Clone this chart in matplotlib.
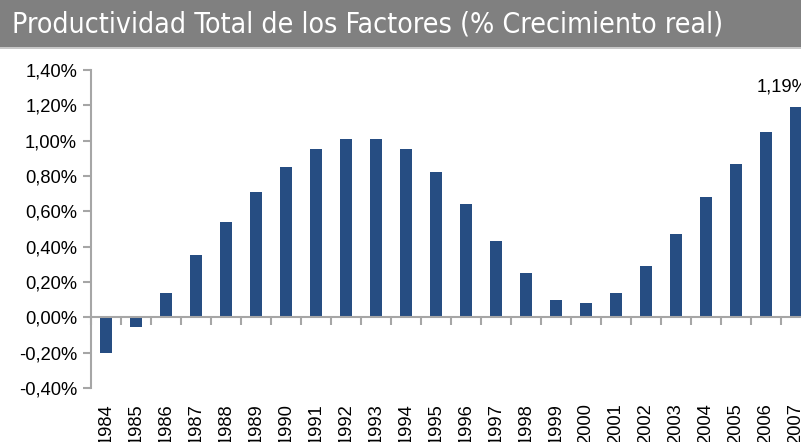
import matplotlib
matplotlib.use("Agg")
import matplotlib.pyplot as plt
from matplotlib.patches import Rectangle
from matplotlib.transforms import offset_copy

years = [str(y) for y in range(1984, 2008)]
tfp_growth = [-0.20, -0.055, 0.14, 0.35, 0.54, 0.71, 0.85, 0.95, 1.01, 1.01,
              0.95, 0.82, 0.64, 0.43, 0.25, 0.10, 0.08, 0.14, 0.29, 0.47,
              0.68, 0.87, 1.05, 1.19]
yticks = [-0.4, -0.2, 0.0, 0.2, 0.4, 0.6, 0.8, 1.0, 1.2, 1.4]
title = "Productividad Total de los Factores (% Crecimiento real)"

BAR = "#264d82"
GREY = "#a6a6a6"
W, H = 801, 442
FS = 13.2


def pct(v):
    return f"{v:.2f}%".replace(".", ",").replace("-0,00", "0,00")


fig = plt.figure(figsize=(W / 100, H / 100), dpi=100)

# header band
fig.patches.append(Rectangle((0, 1 - 47 / H), 1, 47 / H, transform=fig.transFigure,
                             facecolor="#808080", edgecolor="none"))
fig.patches.append(Rectangle((0, 1 - 49 / H), 1, 2 / H, transform=fig.transFigure,
                             facecolor="#c8c8c8", edgecolor="none"))
fig.text(12 / W, 1 - 24 / H, title, color="white", fontsize=20.4, family="DejaVu Sans",
         fontstretch="condensed", va="center", ha="left")

ax = fig.add_axes([91 / W, (H - 388) / H, 720 / W, (388 - 70) / H])
x = range(len(years))
ax.bar(x, tfp_growth, width=0.4, color=BAR, zorder=2)
ax.set_xlim(-0.5, len(years) - 0.5)
ax.set_ylim(-0.4, 1.4)
ax.set_yticks(yticks)
ax.set_yticklabels([pct(v) for v in yticks], fontsize=FS, family="Liberation Sans")

for s in ["top", "right"]:
    ax.spines[s].set_visible(False)
ax.spines["left"].set_color(GREY)
ax.spines["left"].set_linewidth(1.5)
ax.spines["bottom"].set_position(("data", 0))
ax.spines["bottom"].set_color(GREY)
ax.spines["bottom"].set_linewidth(1.5)
ax.set_xticks([i - 0.5 for i in range(len(years) + 1)])
ax.set_xticklabels([])
ax.tick_params(axis="x", length=6, width=1.5, color=GREY, direction="out")
ax.tick_params(axis="y", length=6, width=1.5, color=GREY, direction="out", pad=4)

lab_tr = offset_copy(ax.transData, fig=fig, x=0, y=-15, units="dots")
for i, yr in enumerate(years):
    ax.text(i, -0.4, yr, rotation=90, ha="center", va="top", fontsize=FS,
            family="Liberation Sans", transform=lab_tr, clip_on=False)

last = len(years) - 1
ax.annotate(pct(tfp_growth[last]), (last, tfp_growth[last]), xytext=(-10, 8),
            textcoords="offset points", ha="center", va="bottom", fontsize=FS,
            family="Liberation Sans", annotation_clip=False)

fig.savefig("out.png", dpi=100)
